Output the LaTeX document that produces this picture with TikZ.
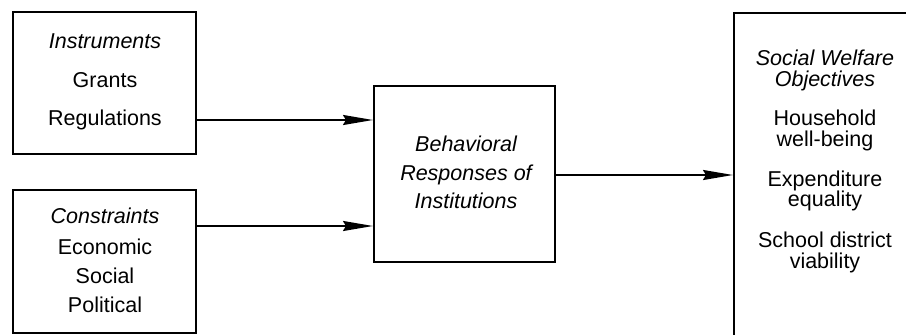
\documentclass[tikz,border=0pt]{standalone}
\usepackage{fontspec}
\setmainfont{Liberation Sans}
\usetikzlibrary{arrows.meta}
\tikzset{
  box/.style={draw, line width=1.8pt, inner sep=0pt, anchor=north west},
  txt/.style={anchor=base, inner sep=0pt, font=\fontsize{21.5}{22}\selectfont},
  itxt/.style={txt, font=\fontsize{21.5}{22}\selectfont\itshape},
  conn/.style={line width=2pt, -{Stealth[length=30pt,width=10pt,inset=3pt]}}
}
\begin{document}
\begin{tikzpicture}[x=1pt,y=-1pt]
\useasboundingbox (0,0) rectangle (906,335);
\clip (0,0) rectangle (906,335);
% boxes
\node[box, minimum width=183pt, minimum height=142pt] (A) at (12,11) {};
\node[box, minimum width=183pt, minimum height=143pt] (B) at (12,189) {};
\node[box, minimum width=181pt, minimum height=176pt] (C) at (373,85) {};
\node[box, minimum width=200pt, minimum height=340pt] (D) at (733,12) {};
% texts A
\node[itxt] (a1) at (105,48) {Instruments};
\node[txt] (a2) at (105,87) {Grants};
\node[txt] (a3) at (105,125) {Regulations};
% texts B
\node[itxt] (b1) at (105,223) {Constraints};
\node[txt] (b2) at (105,254) {Economic};
\node[txt] (b3) at (105,283) {Social};
\node[txt] (b4) at (105,312) {Political};
% texts C
\node[itxt] (c1) at (466,151) {Behavioral};
\node[itxt] (c2) at (466,180) {Responses of};
\node[itxt] (c3) at (466,208) {Institutions};
% texts D
\node[itxt] (d1) at (825,65) {Social Welfare};
\node[itxt] (d2) at (825,86) {Objectives};
\node[txt] (d3) at (825,125) {Household};
\node[txt] (d4) at (825,146) {well-being};
\node[txt] (d5) at (825,186) {Expenditure};
\node[txt] (d6) at (825,206) {equality};
\node[txt] (d7) at (825,247) {School district};
\node[txt] (d8) at (825,268) {viability};
% connectors
\draw[conn] (A.east |- 0,120) -- (C.west |- 0,120);
\draw[conn] (B.east |- 0,226) -- (C.west |- 0,226);
\draw[conn] (C.east |- 0,175) -- (D.west |- 0,175);
\end{tikzpicture}
\end{document}
